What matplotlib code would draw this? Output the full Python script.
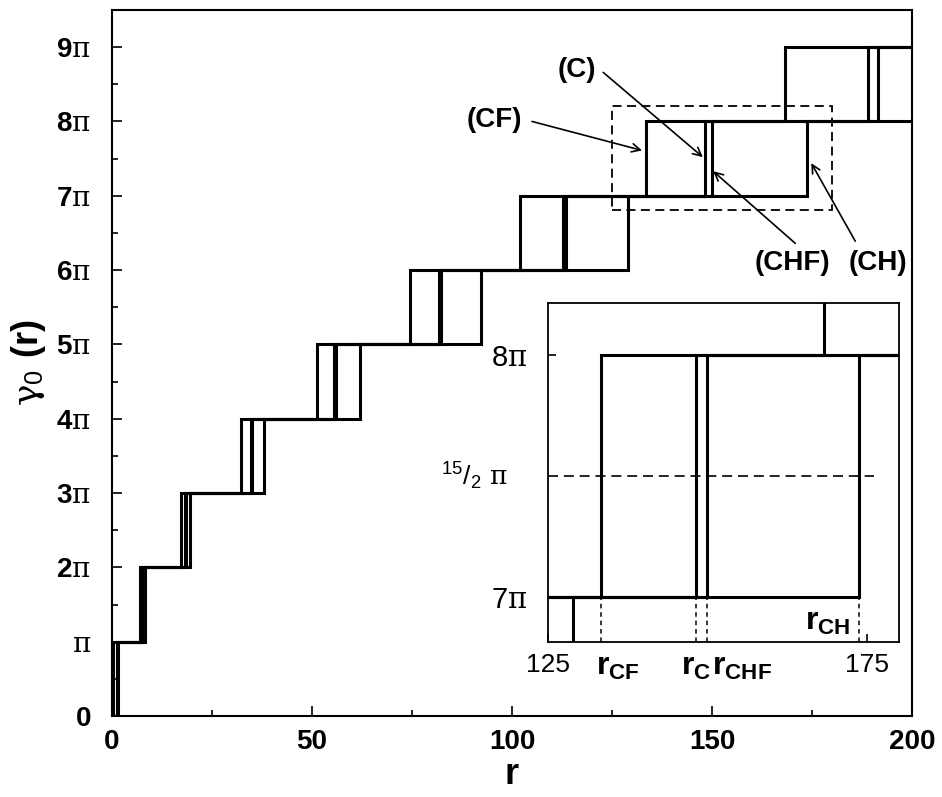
import numpy as np
import matplotlib
matplotlib.use("Agg")
import matplotlib.pyplot as plt
from matplotlib.patches import Rectangle
from matplotlib.ticker import MultipleLocator

plt.rcParams["font.family"] = ["Liberation Sans", "DejaVu Sans"]
plt.rcParams["mathtext.fontset"] = "custom"
plt.rcParams["mathtext.rm"] = "DejaVu Serif"
plt.rcParams["mathtext.it"] = "DejaVu Serif"
plt.rcParams["mathtext.bf"] = "Liberation Sans:bold"
plt.rcParams["mathtext.sf"] = "Liberation Sans"

PI = np.pi

# radii where gamma_0 jumps from (n-1)*pi to n*pi, n = 1, 2, ...
r_cf = [0.2, 7.0, 17.3, 32.2, 51.2, 74.5, 102.0, 133.4, 168.2]
r_c = [1.2, 7.6, 18.3, 34.7, 55.6, 81.8, 112.8, 148.2, 189.0]
r_chf = [1.3, 7.8, 18.6, 35.0, 56.0, 82.3, 113.5, 149.9, 191.4]
r_ch = [1.4, 8.2, 19.4, 38.0, 62.0, 92.2, 129.0, 173.7]

y_ticks = list(range(10))
y_ticklabels = [r"$\mathbf{0}$", r"$\mathrm{\pi}$"] + \
    [r"$\mathbf{%d}\mathrm{\pi}$" % n for n in range(2, 10)]
x_ticks = [0, 50, 100, 150, 200]

# inset window (r range, gamma range in units of pi)
inset_x = (125, 180)
inset_y = (6.814, 8.214)


def steps(radii, rmax=200.0):
    xs, ys = [0.0], [0.0]
    for n, r in enumerate(radii):
        xs += [r, r]
        ys += [n * PI, (n + 1) * PI]
    xs.append(rmax)
    ys.append(len(radii) * PI)
    return xs, ys


fig = plt.figure(figsize=(9.42, 7.97), dpi=100)
ax = fig.add_axes([0.1189, 0.1016, 0.8493, 0.8859])

for radii in (r_cf, r_c, r_chf, r_ch):
    xs, ys = steps(radii)
    ax.plot(xs, ys, color="black", lw=2.2, solid_joinstyle="miter")

ax.set_xlim(0, 200)
ax.set_ylim(0, 9.5 * PI)
ax.set_xticks(x_ticks)
ax.set_xticklabels([str(v) for v in x_ticks], fontsize=20, fontweight="bold")
ax.xaxis.set_minor_locator(MultipleLocator(25))
ax.set_yticks([n * PI for n in y_ticks])
ax.set_yticklabels(y_ticklabels, fontsize=20)
ax.yaxis.set_minor_locator(MultipleLocator(PI / 2))
ax.tick_params(which="both", direction="in", width=1.2)
ax.tick_params(which="major", length=7)
ax.tick_params(which="minor", length=4)
ax.tick_params(axis="y", pad=15)
ax.tick_params(axis="x", pad=9)
for s in ax.spines.values():
    s.set_linewidth(1.5)

ax.set_xlabel(r"$\mathbf{r}$", fontsize=26, labelpad=2)
ax.set_ylabel(r"$\mathrm{\gamma}_{\mathsf{0}}\ \mathbf{(r)}$", fontsize=26, labelpad=6)

# dashed box marking the inset region
ax.add_patch(Rectangle((inset_x[0], inset_y[0] * PI), inset_x[1] - inset_x[0],
                       (inset_y[1] - inset_y[0]) * PI, fill=False, ec="black",
                       lw=1.3, ls=(0, (5, 3))))

arrow = dict(arrowstyle="->,head_length=0.6,head_width=0.3", color="black",
             lw=1.2, shrinkA=0, shrinkB=0)
tfont = dict(fontsize=20, fontweight="bold", ha="center", va="center")
ax.text(116.3, 8.69 * PI, "(C)", **tfont)
ax.annotate("", xy=(147.7, 7.52 * PI), xytext=(122.8, 8.66 * PI), arrowprops=arrow)
ax.text(95.5, 8.02 * PI, "(CF)", **tfont)
ax.annotate("", xy=(132.5, 7.61 * PI), xytext=(105.0, 8.0 * PI), arrowprops=arrow)
ax.text(170.0, 6.09 * PI, "(CHF)", **tfont)
ax.annotate("", xy=(150.3, 7.33 * PI), xytext=(170.8, 6.36 * PI), arrowprops=arrow)
ax.text(191.5, 6.09 * PI, "(CH)", **tfont)
ax.annotate("", xy=(174.8, 7.44 * PI), xytext=(185.8, 6.39 * PI), arrowprops=arrow)

# inset
axi = fig.add_axes([0.5814, 0.1949, 0.3733, 0.4245])
for radii in (r_cf, r_c, r_chf, r_ch):
    xs, ys = steps(radii)
    axi.plot(xs, ys, color="black", lw=2.2, solid_joinstyle="miter")
axi.set_xlim(*inset_x)
axi.set_ylim(inset_y[0] * PI, inset_y[1] * PI)
axi.set_xticks([125, 175])
axi.set_xticklabels(["125", "175"], fontsize=19)
axi.set_yticks([7 * PI, 8 * PI])
axi.set_yticklabels([r"$\mathsf{7}\mathrm{\pi}$", r"$\mathsf{8}\mathrm{\pi}$"], fontsize=21)
axi.tick_params(direction="in", length=6, width=1.2)
axi.tick_params(axis="y", pad=15)
axi.tick_params(axis="x", pad=8)
for s in axi.spines.values():
    s.set_linewidth(1.3)

axi.plot([125, 176], [7.5 * PI, 7.5 * PI], color="black", lw=1.2, ls=(0, (6, 3.5)))
marks = [r_cf[7], r_c[7], r_chf[7], r_ch[7]]
axi.vlines(marks, inset_y[0] * PI, 7 * PI, colors="black", lw=1.1,
           linestyles=(0, (3, 2.5)))

axi.text(-0.115, 7.5 * PI, r"$^{\mathsf{15}}\mathsf{/}_{\mathsf{2}}\ \mathrm{\pi}$",
         transform=axi.get_yaxis_transform(), fontsize=19, ha="right", va="center")
lab = dict(fontsize=23, clip_on=False)
axi.text(132.6, -0.03, r"$\mathbf{r}_{\mathbf{CF}}$", transform=axi.get_xaxis_transform(),
         ha="left", va="top", **lab)
axi.text(145.8, -0.03, r"$\mathbf{r}_{\mathbf{C}}$", transform=axi.get_xaxis_transform(),
         ha="left", va="top", **lab)
axi.text(150.7, -0.03, r"$\mathbf{r}_{\mathbf{CHF}}$", transform=axi.get_xaxis_transform(),
         ha="left", va="top", **lab)
axi.text(165.2, 0.015, r"$\mathbf{r}_{\mathbf{CH}}$", transform=axi.get_xaxis_transform(),
         ha="left", va="bottom", **lab)

fig.savefig("out.png", dpi=100)
